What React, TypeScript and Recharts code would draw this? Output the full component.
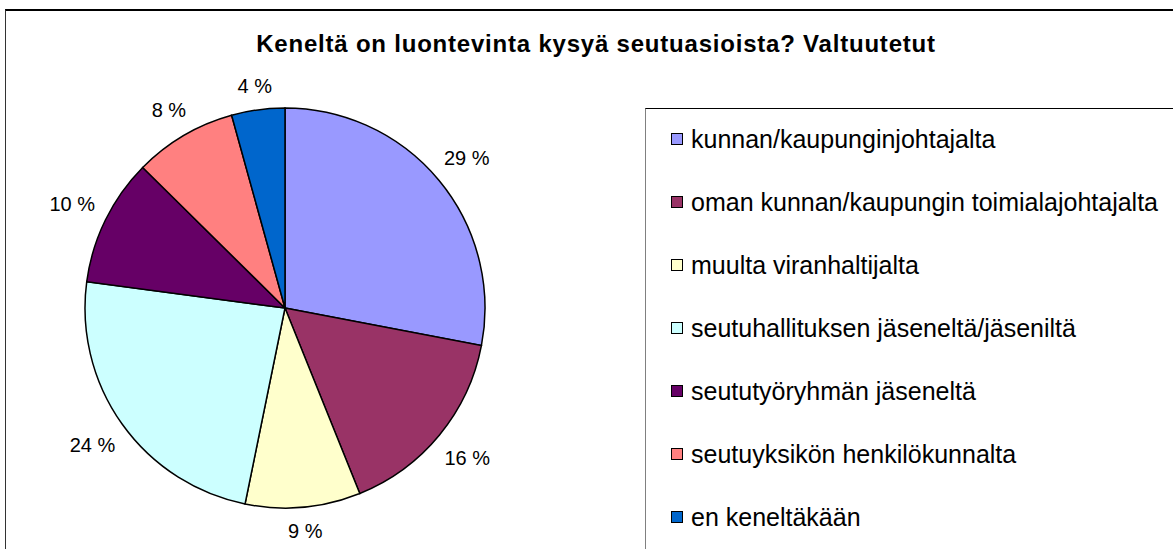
import React from 'react';
import { PieChart, Pie, Cell, Legend } from 'recharts';

const title = 'Keneltä on luontevinta kysyä seutuasioista? Valtuutetut';
const categories = [
  'kunnan/kaupunginjohtajalta',
  'oman kunnan/kaupungin toimialajohtajalta',
  'muulta viranhaltijalta',
  'seutuhallituksen jäseneltä/jäseniltä',
  'seututyöryhmän jäseneltä',
  'seutuyksikön henkilökunnalta',
  'en keneltäkään',
];
const shares = [28.0, 15.9, 9.3, 23.9, 10.3, 8.3, 4.3];
const shareLabels = ['29 %', '16 %', '9 %', '24 %', '10 %', '8 %', '4 %'];
const colors = ['#9999FF', '#993366', '#FFFFCC', '#CCFFFF', '#660066', '#FF8080', '#0066CC'];

const data = categories.map((name, i) => ({ name, value: shares[i] }));

const FONT = '"Liberation Sans", Arial, sans-serif';
const RAD = Math.PI / 180;

const charW = (s: string) => {
  let w = 0;
  for (const c of s) {
    if (c === ' ') w += 0.278;
    else if (c === '%') w += 0.889;
    else w += 0.556;
  }
  return w * 20;
};

const renderLabel = (props: any) => {
  const { cx, cy, midAngle, outerRadius, index } = props;
  const text = shareLabels[index];
  const w = charW(text);
  const h = 20;
  const dx = Math.cos(-midAngle * RAD);
  const dy = Math.sin(-midAngle * RAD);
  const ext = Math.abs(dx) * w / 2 + Math.abs(dy) * h / 2;
  const r = outerRadius + 12 + ext;
  return (
    <text
      x={cx + r * dx}
      y={cy + r * dy}
      textAnchor="middle"
      dominantBaseline="central"
      fontSize={20}
      fontFamily={FONT}
      fill="#000"
    >
      {text}
    </text>
  );
};

const renderLegend = (props: any) => {
  const payload = props.payload && props.payload.length ? props.payload : categories.map((c, i) => ({ value: c, color: colors[i] }));
  return (
    <div style={{ paddingTop: 0 }}>
      {payload.map((p: any, i: number) => (
        <div key={i} style={{ height: 62.9, display: 'flex', alignItems: 'center' }}>
          <span
            style={{
              display: 'inline-block',
              width: 10,
              height: 10,
              marginLeft: 25,
              background: colors[i],
              border: '1.5px solid #000',
            }}
          />
          <span style={{ marginLeft: 8, fontSize: 25, fontFamily: FONT, color: '#000', whiteSpace: 'nowrap', lineHeight: '28px' }}>
            {categories[i]}
          </span>
        </div>
      ))}
    </div>
  );
};

export default function App() {
  return (
    <div style={{ position: 'absolute', left: 0, top: 0, width: 1173, height: 549, overflow: 'hidden', background: '#fff' }}>
      <div
        style={{
          position: 'absolute',
          left: 5,
          top: 9,
          width: 1200,
          height: 600,
          borderTop: '2px solid #000',
          borderLeft: '1.5px solid #333',
        }}
      />
      <div
        style={{
          position: 'absolute',
          left: 645,
          top: 108,
          width: 600,
          height: 500,
          borderTop: '1.5px solid #000',
          borderLeft: '1.5px solid #808080',
        }}
      />
      <div
        style={{
          position: 'absolute',
          left: 0,
          width: 1192,
          top: 31.8,
          textAlign: 'center',
          fontFamily: FONT,
          fontWeight: 'bold',
          fontSize: 24,
          lineHeight: '24px',
          letterSpacing: 0.79,
          color: '#000',
          whiteSpace: 'nowrap',
        }}
      >
        {title}
      </div>
      <div style={{ position: 'absolute', left: 0, top: 0 }}>
        <PieChart width={1173} height={549} margin={{ top: 0, right: 0, bottom: 0, left: 0 }}>
          <Pie
            data={data}
            dataKey="value"
            nameKey="name"
            cx={285}
            cy={308}
            outerRadius={200}
            startAngle={90}
            endAngle={-270}
            stroke="#000"
            strokeWidth={1.5}
            label={renderLabel}
            labelLine={false}
            isAnimationActive={false}
          >
            {data.map((d, i) => (
              <Cell key={d.name} fill={colors[i]} />
            ))}
          </Pie>
          <Legend
            layout="vertical"
            align="right"
            verticalAlign="middle"
            content={renderLegend}
            wrapperStyle={{ left: 646, top: 108, width: 520, height: 445, right: 'auto', bottom: 'auto' }}
          />
        </PieChart>
      </div>
    </div>
  );
}
